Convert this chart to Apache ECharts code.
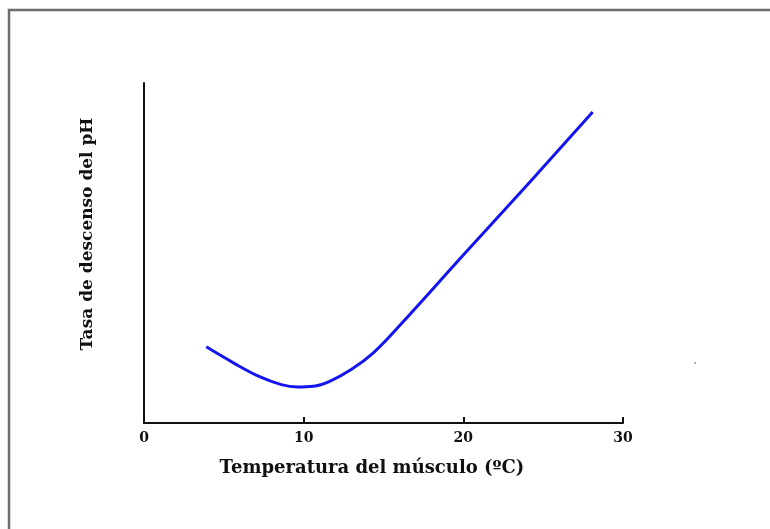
<!DOCTYPE html>
<html>
<head>
<meta charset="utf-8">
<script src="https://cdn.jsdelivr.net/npm/echarts@6/dist/echarts.min.js"></script>
<style>
  html, body { margin: 0; padding: 0; background: #fff; }
  #main { width: 770px; height: 529px; }
</style>
</head>
<body>
<div id="main"></div>
<script>
// temperatura del músculo (ºC)
var temperatura = [3.9, 5.6, 7.2, 8.6, 9.6, 10.6, 11.6, 13.0, 14.4, 16.0, 20.0, 24.0, 28.1];
// tasa de descenso del pH (sin escala)
var tasa = [22.4, 17.7, 13.7, 11.3, 10.6, 10.8, 12.2, 15.8, 20.8, 28.6, 49.4, 70.0, 91.5];
var xTicks = [0, 10, 20, 30];

var chart = echarts.init(document.getElementById('main'));

var puntos = [];
for (var i = 0; i < temperatura.length; i++) {
  puntos.push([temperatura[i], tasa[i]]);
}

var font = '"DejaVu Serif", "Liberation Serif", serif';

chart.setOption({
  backgroundColor: '#fff',
  animation: false,
  grid: { left: 144, top: 83, right: 147, bottom: 106 },
  xAxis: {
    type: 'value',
    min: xTicks[0],
    max: xTicks[xTicks.length - 1],
    interval: 10,
    axisLine: { lineStyle: { color: '#111', width: 2 } },
    axisTick: { inside: true, length: 6, lineStyle: { color: '#111', width: 2 } },
    axisLabel: { fontFamily: font, fontWeight: 'bold', fontSize: 14, color: '#111', margin: 8 },
    splitLine: { show: false }
  },
  yAxis: {
    type: 'value',
    min: 0,
    max: 100,
    axisLine: { show: true, lineStyle: { color: '#111', width: 2 } },
    axisTick: { show: false },
    axisLabel: { show: false },
    splitLine: { show: false }
  },
  series: [{
    type: 'line',
    data: puntos,
    smooth: 0.4,
    showSymbol: false,
    lineStyle: { color: '#1414f0', width: 3 }
  }],
  graphic: [
    {
      type: 'rect',
      shape: { x: 9, y: 10, width: 800, height: 600 },
      style: { fill: 'none', stroke: '#6e6e6e', lineWidth: 2.5 },
      silent: true
    },
    {
      type: 'circle',
      shape: { cx: 695, cy: 363, r: 1 },
      style: { fill: '#999' },
      silent: true
    },
    {
      // título eje x
      type: 'text',
      x: 372,
      y: 468,
      style: {
        text: 'Temperatura del músculo (ºC)',
        font: 'bold 18px ' + font,
        fill: '#111',
        align: 'center',
        verticalAlign: 'middle'
      },
      silent: true
    },
    {
      // título eje y
      type: 'text',
      x: 88,
      y: 234,
      rotation: Math.PI / 2,
      style: {
        text: 'Tasa de descenso del pH',
        font: 'bold 17px ' + font,
        fill: '#111',
        align: 'center',
        verticalAlign: 'middle'
      },
      silent: true
    }
  ]
});
</script>
</body>
</html>
